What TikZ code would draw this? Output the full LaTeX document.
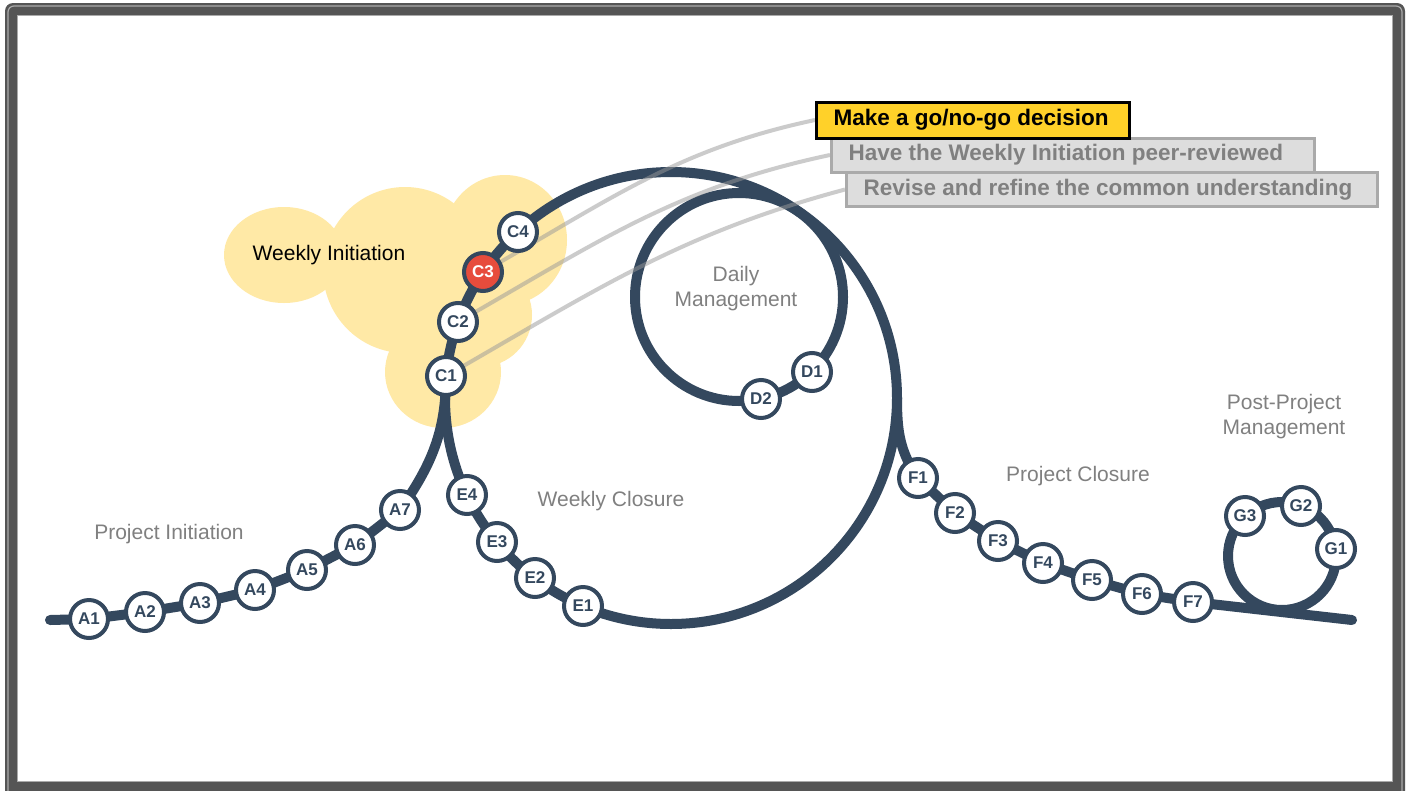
\documentclass[tikz,border=0pt]{standalone}
\usepackage{fontspec}
\setmainfont{Liberation Sans}
\usetikzlibrary{backgrounds}
\definecolor{track}{RGB}{52,72,94}
\definecolor{cloud}{RGB}{255,233,166}
\definecolor{alert}{RGB}{231,76,60}
\definecolor{gold}{RGB}{255,209,41}
\definecolor{paper}{RGB}{221,221,221}
\definecolor{ink}{RGB}{128,128,128}
\definecolor{framedark}{RGB}{85,85,85}
\definecolor{framelight}{RGB}{170,170,170}
\tikzset{
  station/.style={circle, draw=track, line width=4pt, fill=white, minimum size=38pt,
    inner sep=0pt, text=track, font=\bfseries\fontsize{17}{17}\selectfont},
  current/.style={station, fill=alert, text=white},
  rail/.style={draw=track, line width=10pt, line cap=round},
  phase/.style={text=ink, align=center, font=\fontsize{21}{25}\selectfont},
  link/.style={draw=black!40, line width=4pt, opacity=0.5},
  task/.style={draw=framelight, fill=paper, line width=3pt, text=ink, anchor=west,
    align=flush left, minimum height=34pt, inner xsep=17pt, font=\bfseries\fontsize{22.5}{27}\selectfont}
}

\begin{document}
\begin{tikzpicture}[x=1pt, y=1pt]
  \useasboundingbox (0,0) rectangle (1412,-790);
  % stations
  \node[station] (A1) at (89,-619) {A1};
  \node[station] (A2) at (145,-612) {A2};
  \node[station] (A3) at (200,-603) {A3};
  \node[station] (A4) at (255,-590) {A4};
  \node[station] (A5) at (307,-570) {A5};
  \node[station] (A6) at (355,-545) {A6};
  \node[station] (A7) at (400,-510) {A7};
  \node[station] (C1) at (446,-376) {C1};
  \node[station] (C2) at (458,-322) {C2};
  \node[current] (C3) at (483,-272) {C3};
  \node[station] (C4) at (518,-232) {C4};
  \node[station] (D1) at (812,-372) {D1};
  \node[station] (D2) at (761,-399) {D2};
  \node[station] (E1) at (583,-606) {E1};
  \node[station] (E2) at (535,-578) {E2};
  \node[station] (E3) at (497,-542) {E3};
  \node[station] (E4) at (467,-495) {E4};
  \node[station] (F1) at (918,-478) {F1};
  \node[station] (F2) at (955,-513) {F2};
  \node[station] (F3) at (998,-541) {F3};
  \node[station] (F4) at (1043,-563) {F4};
  \node[station] (F5) at (1092,-580) {F5};
  \node[station] (F6) at (1142,-594) {F6};
  \node[station] (F7) at (1193,-602) {F7};
  \node[station] (G1) at (1336,-549) {G1};
  \node[station] (G2) at (1301,-506) {G2};
  \node[station] (G3) at (1245,-516) {G3};
  \coordinate (bigc) at (671,-398);
  \coordinate (dayc) at (739,-297);
  \coordinate (postc) at (1282,-556);
  \coordinate (astart) at (50,-620);
  \coordinate (fsplit) at (897,-398);
  \coordinate (fend) at (1352,-620);
  % task boxes
  \node[task, text width=497pt] (refine) at (845,-189.5) {Revise and refine the common understanding};
  \node[task, text width=449pt] (review) at (830,-155) {Have the Weekly Initiation peer-reviewed};
  \node[task, text width=279pt, draw=black, fill=gold, text=black, minimum height=36pt] (gonogo) at (815,-120) {Make a go/no-go decision};
  % phase labels
  \node[phase, text=black] (wini) at (329,-255) {Weekly Initiation};
  \node[phase] (pini) at (169,-534) {Project Initiation};
  \node[phase] (wclo) at (611,-501) {Weekly Closure};
  \node[phase] (daily) at (736,-289) {Daily\\Management};
  \node[phase] (pclo) at (1078,-476) {Project Closure};
  \node[phase] (post) at (1284,-417) {Post-Project\\Management};

  \begin{pgfonlayer}{background}
    % frame
    \fill[white] (0,0) rectangle (1412,-790);
    \fill[framedark, rounded corners=8] (5,-3) rectangle (1405,-810);
    \draw[framelight, line width=1.2pt, rounded corners=6] (8,-6) rectangle (1402,-810);
    \fill[white] (17,-15) rectangle (1393,-782);
    \draw[framelight, line width=1pt] (17.5,-15.5) rectangle (1392.5,-781.5);
    % cloud
    \fill[cloud] (284,-255) ellipse[x radius=60, y radius=48];
    \fill[cloud] (405,-270) ellipse[x radius=82, y radius=83];
    \fill[cloud] (505,-240) ellipse[x radius=62, y radius=65];
    \fill[cloud] (480,-315) circle[radius=52];
    \fill[cloud] (443,-372) ellipse[x radius=58, y radius=56];
    % rails
    \draw[rail] (bigc) circle[radius=226];
    \draw[rail] (dayc) circle[radius=104];
    \draw[rail] (postc) circle[radius=54];
    \draw[rail] (astart) -- (A1.center) -- (A2.center) -- (A3.center) -- (A4.center)
      -- (A5.center) -- (A6.center) -- (A7.center) to[out=55,in=-90] (C1.center);
    \draw[rail] (fsplit) to[out=-90,in=125] (F1.center) -- (F2.center) -- (F3.center)
      -- (F4.center) -- (F5.center) -- (F6.center) -- (F7.center) -- (fend);
    % links
    \draw[link] (C3) to[out=30,in=192] (gonogo.west);
    \draw[link] (C2) to[out=30,in=192] (review.west);
    \draw[link] (C1) to[out=30,in=195] (refine.west);
  \end{pgfonlayer}
\end{tikzpicture}
\end{document}
